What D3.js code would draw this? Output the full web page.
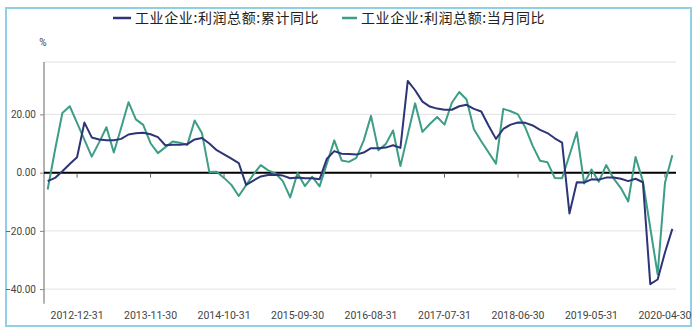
<!DOCTYPE html>
<html>
<head>
<meta charset="utf-8">
<script src="https://cdn.jsdelivr.net/npm/d3@7"></script>
<style>
  body { margin: 0; background: #fff; }
  svg { display: block; }
</style>
</head>
<body>
<div id="chart"></div>
<script>
// categories: month ends, Aug 2012 - May 2020, January missing (Jan-Feb reported together)
var years = [2012, 2013, 2014, 2015, 2016, 2017, 2018, 2019, 2020];
var tickLabels = ["2012-12-31","2013-11-30","2014-10-31","2015-09-30","2016-08-31","2017-07-31","2018-06-30","2019-05-31","2020-04-30"];
var yTicks = [20, 0, -20, -40];
var seriesNames = ["工业企业:利润总额:累计同比", "工业企业:利润总额:当月同比"];
var seriesColors = ["#2d3477", "#3d9d86"];

// 累计同比
var cumulative = [
  -2.9, -1.8, 0.5, 3.0, 5.3,
  17.2, 12.1, 11.4, 11.1, 11.1, 11.6, 13.1, 13.5, 13.7, 13.2, 12.2,
  9.4, 9.6, 9.6, 9.8, 11.4, 11.9, 10.0, 7.7, 6.3, 4.8, 3.3,
  -4.2, -2.7, -1.3, -0.8, -0.7, -1.0, -1.9, -1.7, -1.9, -1.9, -2.3,
  4.8, 7.4, 6.5, 6.4, 6.2, 6.9, 8.4, 8.4, 8.6, 9.4, 8.5,
  31.5, 28.3, 24.4, 22.7, 22.0, 21.6, 21.6, 22.8, 23.3, 21.9, 21.0,
  16.1, 11.6, 15.0, 16.5, 17.2, 17.1, 16.2, 14.7, 13.6, 11.8, 10.3,
  -14.0, -3.3, -3.4, -2.3, -2.4, -1.7, -1.7, -2.1, -2.9, -2.1, -3.3,
  -38.3, -36.7, -27.4, -19.3
];
// 当月同比 (no value for Jan-Feb months)
var monthly = [
  -5.8, 7.8, 20.5, 22.8, 17.1,
  null, 5.5, 10.4, 15.6, 6.9, 15.4, 24.2, 18.3, 16.4, 10.1, 6.7,
  null, 10.7, 10.3, 9.5, 17.9, 13.5, 0.2, 0.3, -1.8, -4.2, -8.0,
  null, -0.6, 2.6, 0.8, -0.3, -2.9, -8.5, -0.1, -4.6, -1.4, -4.7,
  null, 11.1, 4.2, 3.7, 5.1, 11.0, 19.5, 7.7, 9.8, 14.5, 2.3,
  null, 23.8, 14.0, 16.7, 19.1, 16.5, 24.0, 27.7, 25.1, 14.9, 10.8,
  null, 3.1, 21.9, 21.1, 20.0, 15.5, 9.2, 4.1, 3.6, -1.8, -1.9,
  null, 13.9, -3.7, 1.1, -3.1, 2.6, -2.0, -5.3, -9.9, 5.4, -3.0,
  null, -34.9, -3.5, 6.0
];

var fmtDay = d3.timeFormat("%Y-%m-%d");
var dates = [];
years.forEach(function(y) {
  var m0 = (y === 2012) ? 7 : 1;
  var m1 = (y === 2020) ? 4 : 11;
  for (var m = m0; m <= m1; m++) {
    dates.push(fmtDay(new Date(y, m + 1, 0)));
  }
});

var width = 697, height = 331;
var margin = {top: 62, right: 21, bottom: 27.3, left: 44};

var svg = d3.select("#chart").append("svg")
  .attr("width", width)
  .attr("height", height);

// outer frame
svg.append("rect")
  .attr("x", 6).attr("y", 8)
  .attr("width", 685).attr("height", 318)
  .attr("fill", "none")
  .attr("stroke", "#8fd0e4")
  .attr("stroke-width", 2);

var x = d3.scalePoint()
  .domain(dates)
  .range([margin.left, width - margin.right])
  .padding(0.5);

var y = d3.scaleLinear()
  .domain([-45, 38])
  .range([height - margin.bottom, margin.top]);

// gridlines
svg.append("g")
  .selectAll("line")
  .data([38, 20, -20, -40])
  .enter().append("line")
  .attr("x1", margin.left).attr("x2", width - margin.right)
  .attr("y1", function(d) { return y(d); })
  .attr("y2", function(d) { return y(d); })
  .attr("stroke", "#e2e2e2")
  .attr("stroke-width", 1);

// y axis
var yAxis = svg.append("g")
  .attr("transform", "translate(" + margin.left + ",0)")
  .call(d3.axisLeft(y).tickValues(yTicks).tickFormat(d3.format(".2f")).tickSize(4).tickPadding(4));
yAxis.select(".domain").attr("stroke", "#666").attr("d", "M0," + y(38) + "V" + y(-45));
yAxis.selectAll(".tick line").attr("stroke", "#888");
yAxis.selectAll("text")
  .attr("font-family", "Roboto, sans-serif")
  .attr("font-size", "10px")
  .attr("fill", "#444");

svg.append("text")
  .attr("x", 43).attr("y", 46)
  .attr("text-anchor", "middle")
  .attr("font-family", "Roboto, sans-serif")
  .attr("font-size", "10px")
  .attr("fill", "#444")
  .text("%");

// zero line
svg.append("line")
  .attr("x1", margin.left).attr("x2", width - margin.right)
  .attr("y1", y(0)).attr("y2", y(0))
  .attr("stroke", "#000")
  .attr("stroke-width", 2);

// x ticks on the zero line
svg.append("g")
  .selectAll("line")
  .data(tickLabels)
  .enter().append("line")
  .attr("x1", function(d) { return x(d); })
  .attr("x2", function(d) { return x(d); })
  .attr("y1", y(0) + 1).attr("y2", y(0) + 5)
  .attr("stroke", "#666");

// x labels below the plot
svg.append("g")
  .selectAll("text")
  .data(tickLabels)
  .enter().append("text")
  .attr("x", function(d) { return x(d); })
  .attr("y", 319)
  .attr("text-anchor", "middle")
  .attr("font-family", "Roboto, sans-serif")
  .attr("font-size", "10.5px")
  .attr("fill", "#444")
  .text(function(d) { return d; });

// lines
var line = d3.line()
  .x(function(d) { return x(d.date); })
  .y(function(d) { return y(d.value); });

var seriesData = [cumulative, monthly].map(function(vals) {
  return vals.map(function(v, i) { return {date: dates[i], value: v}; })
    .filter(function(d) { return d.value !== null; });
});

// green below, blue on top
[1, 0].forEach(function(k) {
  svg.append("path")
    .datum(seriesData[k])
    .attr("fill", "none")
    .attr("stroke", seriesColors[k])
    .attr("stroke-width", 2)
    .attr("stroke-linejoin", "round")
    .attr("d", line);
});

// legend
var legendX = [113, 342];
var legend = svg.selectAll(".legend")
  .data(seriesNames)
  .enter().append("g")
  .attr("class", "legend")
  .attr("transform", function(d, i) { return "translate(" + legendX[i] + ",18)"; });

legend.append("line")
  .attr("x1", 0).attr("x2", function(d, i) { return i === 0 ? 18 : 15; })
  .attr("y1", 0).attr("y2", 0)
  .attr("stroke", function(d, i) { return seriesColors[i]; })
  .attr("stroke-width", 2.5);

legend.append("text")
  .attr("x", function(d, i) { return i === 0 ? 22 : 19; })
  .attr("y", 5)
  .attr("font-family", "'Noto Sans CJK SC', sans-serif")
  .attr("font-size", "14px")
  .attr("letter-spacing", "0.6px")
  .attr("fill", "#222")
  .text(function(d) { return d; });
</script>
</body>
</html>
